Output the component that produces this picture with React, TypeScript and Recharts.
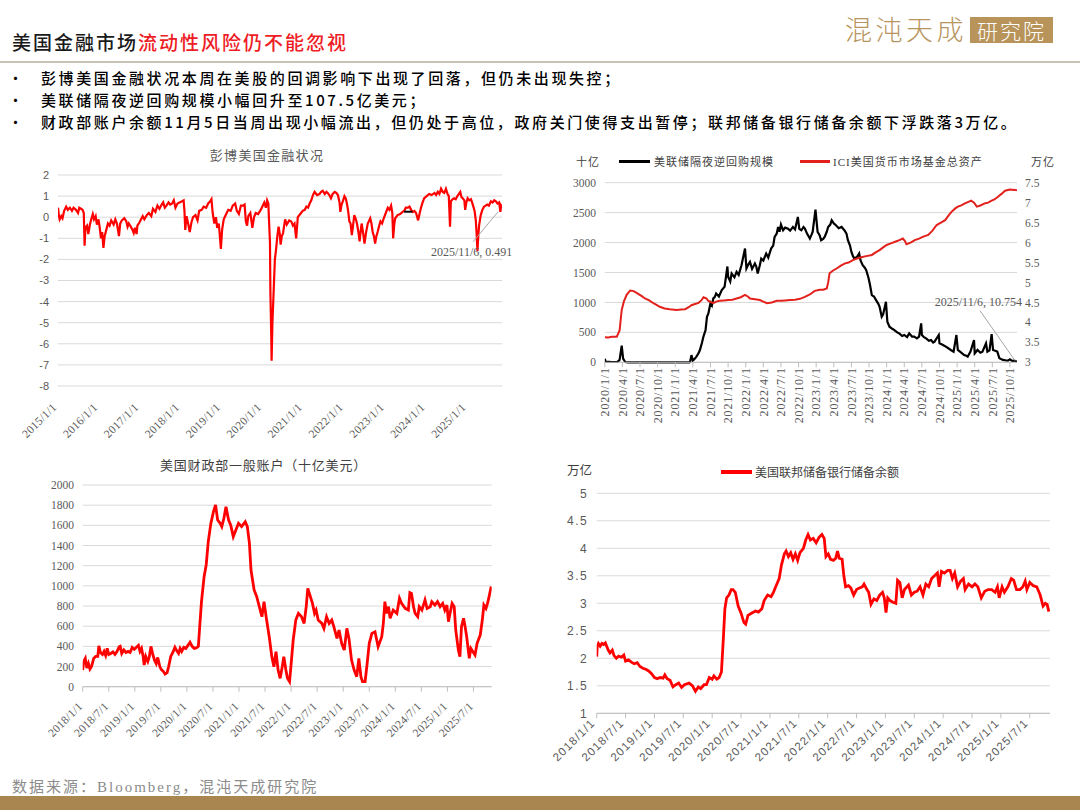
import React from 'react';
import { LineChart, Line, XAxis, YAxis, CartesianGrid, ReferenceDot, ReferenceLine } from 'recharts';

const CJK = '"Noto Sans CJK SC", sans-serif';
const SERIF = '"Liberation Serif", "Noto Sans CJK SC", serif';
const SANS = '"Liberation Sans", "Noto Sans CJK SC", sans-serif';
const GRID = '#d9d9d9';
const AXIS = '#bfbfbf';
const TEXT = '#595959';
const RED = '#ff0000';

// 彭博美国金融状况 (x = fractional year)
const fciYears = [
  2015.0, 2015.02, 2015.04, 2015.08, 2015.11, 2015.15, 2015.2, 2015.24, 2015.29, 2015.34, 2015.38, 2015.44, 2015.49, 2015.52, 2015.56, 2015.6, 2015.63, 2015.65, 2015.67, 2015.71, 2015.74, 2015.78, 2015.82, 2015.85, 2015.88, 2015.92, 2015.95, 2015.99,
  2016.02, 2016.05, 2016.08, 2016.11, 2016.14, 2016.18, 2016.22, 2016.26, 2016.3, 2016.36, 2016.4, 2016.44, 2016.49, 2016.52, 2016.56, 2016.62, 2016.67, 2016.7, 2016.73, 2016.78, 2016.82, 2016.85, 2016.88, 2016.92, 2016.94, 2016.99,
  2017.03, 2017.07, 2017.11, 2017.17, 2017.22, 2017.28, 2017.32, 2017.38, 2017.43, 2017.48, 2017.52, 2017.57, 2017.61, 2017.65, 2017.7, 2017.74, 2017.79, 2017.83, 2017.87, 2017.92, 2017.97,
  2018.03, 2018.07, 2018.09, 2018.11, 2018.14, 2018.17, 2018.22, 2018.26, 2018.3, 2018.36, 2018.41, 2018.45, 2018.51, 2018.56, 2018.62, 2018.67, 2018.72, 2018.75, 2018.78, 2018.82, 2018.86, 2018.89, 2018.93, 2018.98,
  2019.01, 2019.05, 2019.11, 2019.16, 2019.22, 2019.27, 2019.33, 2019.37, 2019.42, 2019.47, 2019.52, 2019.56, 2019.59, 2019.62, 2019.65, 2019.7, 2019.75, 2019.79, 2019.83, 2019.89, 2019.94, 2019.98,
  2020.04, 2020.08, 2020.11, 2020.14, 2020.16, 2020.18, 2020.19, 2020.21, 2020.22, 2020.24, 2020.27, 2020.3, 2020.33, 2020.36, 2020.39, 2020.42, 2020.44, 2020.47, 2020.5, 2020.55, 2020.59, 2020.65, 2020.7, 2020.74, 2020.78, 2020.82, 2020.86, 2020.92, 2020.98,
  2021.03, 2021.07, 2021.11, 2021.15, 2021.19, 2021.23, 2021.27, 2021.33, 2021.39, 2021.43, 2021.47, 2021.52, 2021.56, 2021.59, 2021.63, 2021.67, 2021.71, 2021.76, 2021.8, 2021.84, 2021.88, 2021.9, 2021.93, 2021.96,
  2022.0, 2022.03, 2022.06, 2022.09, 2022.12, 2022.15, 2022.18, 2022.21, 2022.24, 2022.28, 2022.31, 2022.34, 2022.37, 2022.4, 2022.42, 2022.46, 2022.49, 2022.53, 2022.57, 2022.63, 2022.66, 2022.69, 2022.72, 2022.75, 2022.78, 2022.81, 2022.85, 2022.88, 2022.92, 2022.96,
  2023.01, 2023.06, 2023.1, 2023.14, 2023.17, 2023.19, 2023.22, 2023.24, 2023.3, 2023.36, 2023.42, 2023.46, 2023.5, 2023.55, 2023.59, 2023.63, 2023.67, 2023.71, 2023.75, 2023.8, 2023.84, 2023.87, 2023.91, 2023.95,
  2024.01, 2024.07, 2024.13, 2024.2, 2024.24, 2024.28, 2024.32, 2024.36, 2024.4, 2024.44, 2024.48, 2024.52, 2024.55, 2024.58, 2024.6, 2024.64, 2024.68, 2024.72, 2024.76, 2024.83, 2024.86, 2024.89, 2024.93, 2024.95, 2024.98,
  2025.01, 2025.05, 2025.09, 2025.12, 2025.15, 2025.18, 2025.21, 2025.23, 2025.25, 2025.27, 2025.29, 2025.33, 2025.37, 2025.41, 2025.45, 2025.49, 2025.53, 2025.58, 2025.62, 2025.66, 2025.7, 2025.74, 2025.78, 2025.81, 2025.83, 2025.85,
];
const fciValues = [
  0.45, 0.1, -0.1, 0.05, -0.05, 0.3, 0.5, 0.35, 0.45, 0.3, 0.45, 0.35, 0.2, 0.45, 0.4, 0.35, 0.2, -1.35, -0.5, -0.4, -0.8, -0.35, -0.05, 0.15, -0.1, 0.05, -0.35, -0.1,
  -0.5, -1.0, -0.7, -1.45, -0.9, -0.6, -0.3, -0.4, -0.15, -0.35, -0.1, -0.3, -0.9, -0.3, -0.15, -0.05, -0.2, -0.45, -0.3, -0.45, -0.6, -0.75, -0.5, -0.8, -0.4, -0.25,
  -0.1, 0.05, -0.1, 0.1, 0.2, 0.05, 0.4, 0.25, 0.55, 0.4, 0.55, 0.7, 0.45, 0.55, 0.7, 0.6, 0.65, 0.8, 0.45, 0.65, 0.7,
  0.75, 0.8, 0.3, -0.6, 0.05, -0.2, -0.7, -0.25, 0.0, 0.1, -0.15, 0.3, 0.35, 0.5, 0.45, 0.65, 0.75, 0.85, 0.2, -0.3, 0.0, -0.5, -0.3, -1.5,
  -0.6, -0.1, 0.15, 0.35, 0.3, 0.55, 0.65, 0.3, 0.15, 0.55, 0.55, 0.6, -0.2, -0.4, 0.05, 0.2, -0.5, 0.0, 0.2, 0.15, 0.3, 0.45,
  0.7, 0.45, 0.8, 0.65, -0.3, -1.2, -3.5, -5.5, -6.8, -5.0, -3.5, -2.0, -1.5, -0.9, -0.45, -0.8, -1.3, -0.9, -0.75, -0.1, -0.35, -0.15, -0.2, -0.4, -0.3, -1.0, 0.0, 0.15, 0.3,
  0.35, 0.5, 0.45, 0.65, 0.8, 1.05, 1.2, 1.05, 1.1, 1.2, 1.25, 1.1, 1.2, 1.15, 1.05, 0.9, 1.1, 1.2, 1.15, 1.05, 0.7, 0.25, 0.6, 0.75,
  1.0, 0.9, 0.65, 0.3, -0.2, -0.3, -0.85, -0.4, 0.1, -0.1, -0.35, -0.7, -1.15, -0.6, -0.3, -0.8, -1.25, -0.7, -0.3, -0.05, -0.3, -0.7, -0.9, -1.25, -0.9, -0.7, -0.4, -0.2, -0.3, -0.05,
  0.2, 0.45, 0.35, 0.55, 0.2, -1.0, -0.3, -0.05, 0.1, 0.15, 0.25, 0.3, 0.45, 0.45, 0.5, 0.35, 0.25, 0.3, 0.2, -0.15, 0.2, 0.45, 0.7, 0.9,
  1.0, 1.1, 1.05, 1.15, 1.05, 1.2, 1.1, 1.35, 1.2, 1.15, 1.35, 1.1, 1.0, -0.45, 0.75, 0.85, 0.9, 0.85, 1.0, 1.2, 0.95, 0.9, 0.8, 0.35, 0.7,
  0.9, 0.8, 0.85, 0.7, 0.5, 0.3, -0.15, -0.8, -1.6, -0.9, -0.4, 0.1, 0.35, 0.5, 0.55, 0.6, 0.55, 0.75, 0.7, 0.8, 0.75, 0.65, 0.7, 0.25, 0.55, 0.491,
];
const fciTicks = [2015, 2016, 2017, 2018, 2019, 2020, 2021, 2022, 2023, 2024, 2025];
const fciTickLabels = ['2015/1/1', '2016/1/1', '2017/1/1', '2018/1/1', '2019/1/1', '2020/1/1', '2021/1/1', '2022/1/1', '2023/1/1', '2024/1/1', '2025/1/1'];
const fciYTicks = [-8, -7, -6, -5, -4, -3, -2, -1, 0, 1, 2];
const fciMarkYears = [2023.46, 2023.66];
const fciMarkValue = 0.26;

// 美联储隔夜逆回购规模 (十亿)
const rrpYears = [
  2020.0, 2020.01, 2020.1, 2020.18, 2020.21, 2020.24, 2020.26, 2020.29, 2020.33, 2020.7,
  2021.2, 2021.21, 2021.23, 2021.25, 2021.27, 2021.3, 2021.33, 2021.35, 2021.38, 2021.4, 2021.43, 2021.45, 2021.47, 2021.5, 2021.52, 2021.54, 2021.56, 2021.58, 2021.62, 2021.66, 2021.7, 2021.74, 2021.75, 2021.78, 2021.8, 2021.84, 2021.87, 2021.9, 2021.94, 2021.96, 2021.99,
  2022.01, 2022.04, 2022.06, 2022.09, 2022.13, 2022.15, 2022.17, 2022.2, 2022.22, 2022.25, 2022.29, 2022.32, 2022.36, 2022.39, 2022.41, 2022.44, 2022.46, 2022.48, 2022.5, 2022.53, 2022.56, 2022.6, 2022.63, 2022.67, 2022.7, 2022.74, 2022.76, 2022.79, 2022.82, 2022.84, 2022.87, 2022.91, 2022.93, 2022.95, 2022.99,
  2023.02, 2023.05, 2023.07, 2023.1, 2023.12, 2023.15, 2023.17, 2023.2, 2023.22, 2023.25, 2023.28, 2023.32, 2023.36, 2023.4, 2023.43, 2023.45, 2023.48, 2023.5, 2023.52, 2023.54, 2023.58, 2023.61, 2023.63, 2023.66, 2023.69, 2023.71, 2023.74, 2023.76, 2023.79, 2023.82, 2023.85, 2023.88, 2023.9, 2023.93, 2023.95, 2023.99,
  2024.01, 2024.04, 2024.08, 2024.11, 2024.15, 2024.18, 2024.22, 2024.25, 2024.29, 2024.32, 2024.36, 2024.39, 2024.43, 2024.46, 2024.49, 2024.5, 2024.53, 2024.56, 2024.6, 2024.63, 2024.66, 2024.68, 2024.74, 2024.75, 2024.8, 2024.84, 2024.88, 2024.91, 2024.95, 2024.99,
  2025.01, 2025.05, 2025.1, 2025.13, 2025.15, 2025.19, 2025.24, 2025.25, 2025.29, 2025.33, 2025.36, 2025.41, 2025.43, 2025.46, 2025.49, 2025.51, 2025.55, 2025.57, 2025.6, 2025.65, 2025.7, 2025.72, 2025.75, 2025.78, 2025.81, 2025.85,
];
const rrpValues = [
  60, 10, 5, 8, 40, 280, 60, 5, 0, 0,
  0, 5, 120, 30, 50, 95, 150, 205, 330, 430, 540, 760, 815, 990, 950, 1067, 1090, 1150, 1100, 1206, 1261, 1600, 1428, 1350, 1483, 1420, 1511, 1460, 1622, 1733, 1900,
  1567, 1640, 1678, 1560, 1650, 1600, 1483, 1620, 1733, 1700, 1817, 1750, 1900, 1950, 2094, 2150, 2261, 2180, 2300, 2206, 2250, 2233, 2200, 2261, 2220, 2428, 2230, 2206, 2260, 2233, 2150, 2067, 2120, 2178, 2550,
  2178, 2120, 2039, 2060, 2094, 2180, 2261, 2300, 2372, 2320, 2289, 2240, 2261, 2206, 2150, 2039, 1950, 1844, 1780, 1733, 1760, 1817, 1700, 1622, 1580, 1539, 1420, 1317, 1122, 1100, 1039, 980, 928, 761, 800, 1011,
  678, 594, 560, 539, 500, 483, 440, 456, 420, 483, 430, 428, 400, 430, 650, 456, 420, 400, 360, 372, 330, 344, 456, 317, 290, 261, 230, 206, 178, 456,
  206, 170, 122, 110, 94, 178, 372, 150, 206, 160, 178, 317, 178, 200, 472, 206, 190, 178, 67, 40, 30, 28, 50, 25, 28, 10.754,
];

// ICI美国货币市场基金总资产 (万亿)
const iciYears = [
  2020.0, 2020.05, 2020.1, 2020.17, 2020.19, 2020.21, 2020.24, 2020.27, 2020.31, 2020.36, 2020.4, 2020.44, 2020.48, 2020.53, 2020.57, 2020.63, 2020.69, 2020.74, 2020.78, 2020.85, 2020.92,
  2021.02, 2021.08, 2021.14, 2021.19, 2021.23, 2021.28, 2021.33, 2021.37, 2021.4, 2021.44, 2021.47, 2021.54, 2021.58, 2021.63, 2021.69, 2021.75, 2021.81, 2021.87, 2021.93, 2021.99,
  2022.03, 2022.06, 2022.13, 2022.2, 2022.25, 2022.3, 2022.37, 2022.44, 2022.5, 2022.56, 2022.63, 2022.7, 2022.77, 2022.84, 2022.91, 2022.98,
  2023.05, 2023.1, 2023.15, 2023.17, 2023.19, 2023.24, 2023.29, 2023.35, 2023.41, 2023.46, 2023.52, 2023.58, 2023.64, 2023.71, 2023.79, 2023.85, 2023.9, 2023.95,
  2024.0, 2024.06, 2024.12, 2024.18, 2024.23, 2024.26, 2024.28, 2024.34, 2024.4, 2024.46, 2024.52, 2024.59, 2024.65, 2024.71, 2024.77, 2024.83, 2024.88, 2024.92, 2024.97,
  2025.01, 2025.06, 2025.11, 2025.16, 2025.2, 2025.24, 2025.28, 2025.33, 2025.39, 2025.44, 2025.49, 2025.53, 2025.58, 2025.63, 2025.68, 2025.75, 2025.82, 2025.85,
];
const iciValues = [
  3.63, 3.62, 3.64, 3.64, 3.72, 3.8, 4.31, 4.52, 4.69, 4.8, 4.79, 4.75, 4.71, 4.65, 4.6, 4.55, 4.48, 4.43, 4.39, 4.35, 4.33,
  4.31, 4.32, 4.33, 4.38, 4.43, 4.46, 4.49, 4.55, 4.63, 4.6, 4.54, 4.48, 4.52, 4.54, 4.55, 4.56, 4.57, 4.6, 4.63, 4.69,
  4.65, 4.6, 4.58, 4.56, 4.52, 4.48, 4.5, 4.54, 4.54, 4.55, 4.56, 4.57, 4.59, 4.64, 4.7, 4.79,
  4.82, 4.82, 4.85, 5.0, 5.23, 5.3, 5.35, 5.42, 5.48, 5.5, 5.56, 5.6, 5.63, 5.66, 5.69, 5.76, 5.81, 5.88,
  5.94, 5.98, 6.02, 6.06, 6.1, 6.04, 5.96, 6.0, 6.06, 6.1, 6.15, 6.19, 6.3, 6.44, 6.5, 6.56, 6.68, 6.77, 6.85,
  6.9, 6.93, 6.98, 7.02, 7.05, 7.0, 6.9, 6.93, 6.98, 7.0, 7.05, 7.08, 7.15, 7.22, 7.3, 7.33, 7.32, 7.31,
];
const rrpTicks = [
  2020, 2020.25, 2020.5, 2020.75, 2021, 2021.25, 2021.5, 2021.75, 2022, 2022.25, 2022.5, 2022.75,
  2023, 2023.25, 2023.5, 2023.75, 2024, 2024.25, 2024.5, 2024.75, 2025, 2025.25, 2025.5, 2025.75,
];
const rrpTickLabels = [
  '2020/1/1', '2020/4/1', '2020/7/1', '2020/10/1', '2021/1/1', '2021/4/1', '2021/7/1', '2021/10/1',
  '2022/1/1', '2022/4/1', '2022/7/1', '2022/10/1', '2023/1/1', '2023/4/1', '2023/7/1', '2023/10/1',
  '2024/1/1', '2024/4/1', '2024/7/1', '2024/10/1', '2025/1/1', '2025/4/1', '2025/7/1', '2025/10/1',
];
const rrpYTicks = [0, 500, 1000, 1500, 2000, 2500, 3000];
const iciYTicks = [3, 3.5, 4, 4.5, 5, 5.5, 6, 6.5, 7, 7.5];

// 美国财政部一般账户 (十亿美元)
const tgaYears = [
  2018.0, 2018.02, 2018.05, 2018.08, 2018.11, 2018.14, 2018.17, 2018.21, 2018.25, 2018.29, 2018.31, 2018.34, 2018.38, 2018.41, 2018.44, 2018.47, 2018.5, 2018.54, 2018.58, 2018.62, 2018.66, 2018.7, 2018.72, 2018.75, 2018.79, 2018.83, 2018.87, 2018.91, 2018.95, 2018.99,
  2019.03, 2019.07, 2019.1, 2019.13, 2019.16, 2019.18, 2019.21, 2019.25, 2019.28, 2019.31, 2019.34, 2019.38, 2019.41, 2019.44, 2019.48, 2019.51, 2019.55, 2019.58, 2019.62, 2019.65, 2019.69, 2019.73, 2019.77, 2019.8, 2019.84, 2019.87, 2019.9, 2019.94, 2019.98,
  2020.02, 2020.06, 2020.1, 2020.14, 2020.18, 2020.22, 2020.25, 2020.28, 2020.33, 2020.37, 2020.41, 2020.46, 2020.51, 2020.55, 2020.59, 2020.64, 2020.67, 2020.71, 2020.75, 2020.8, 2020.84, 2020.89, 2020.94, 2020.99,
  2021.05, 2021.12, 2021.16, 2021.2, 2021.23, 2021.26, 2021.29, 2021.34, 2021.39, 2021.44, 2021.48, 2021.53, 2021.58, 2021.63, 2021.67, 2021.71, 2021.75, 2021.79, 2021.83, 2021.86, 2021.9, 2021.93, 2021.97, 2021.99,
  2022.04, 2022.09, 2022.14, 2022.2, 2022.25, 2022.29, 2022.32, 2022.36, 2022.41, 2022.45, 2022.48, 2022.52, 2022.59, 2022.63, 2022.68, 2022.73, 2022.78, 2022.82, 2022.88, 2022.92, 2022.97,
  2023.02, 2023.07, 2023.11, 2023.16, 2023.21, 2023.26, 2023.3, 2023.34, 2023.37, 2023.42, 2023.46, 2023.5, 2023.55, 2023.61, 2023.67, 2023.74, 2023.77, 2023.8, 2023.83, 2023.87, 2023.9, 2023.96,
  2024.03, 2024.08, 2024.12, 2024.19, 2024.25, 2024.28, 2024.31, 2024.35, 2024.38, 2024.43, 2024.46, 2024.51, 2024.57, 2024.61, 2024.67, 2024.7, 2024.76, 2024.81, 2024.86, 2024.91, 2024.95, 2024.99,
  2025.02, 2025.05, 2025.09, 2025.13, 2025.16, 2025.21, 2025.24, 2025.27, 2025.31, 2025.34, 2025.37, 2025.4, 2025.42, 2025.45, 2025.49, 2025.53, 2025.57, 2025.63, 2025.67, 2025.7, 2025.74, 2025.77, 2025.8, 2025.84,
];
const tgaValues = [
  165, 250, 280, 185, 230, 175, 200, 280, 300, 300, 405, 340, 320, 350, 310, 380, 320, 330, 345, 320, 350, 395, 400, 330, 365, 340, 350, 340, 390, 370,
  390, 410, 350, 380, 300, 215, 300, 250, 300, 400, 330, 260, 230, 290, 200, 170, 150, 125, 140, 200, 300, 340, 390, 360, 330, 380, 350, 390, 380,
  410, 440, 400, 380, 385, 400, 628, 843, 1091, 1207, 1438, 1620, 1736, 1802, 1653, 1620, 1587, 1670, 1785, 1653, 1603, 1488, 1554, 1620,
  1587, 1636, 1587, 1421, 1157, 1058, 959, 893, 793, 694, 843, 661, 496, 298, 198, 347, 165, 83, 198, 298, 165, 83, 50, 165,
  463, 661, 727, 694, 628, 793, 975, 909, 826, 727, 760, 661, 628, 579, 694, 628, 661, 595, 479, 562, 430,
  364, 579, 479, 264, 165, 99, 281, 99, 50, 50, 231, 430, 529, 545, 397, 496, 628, 843, 727, 793, 678, 760,
  727, 876, 826, 777, 760, 932, 925, 793, 727, 694, 793, 760, 860, 777, 793, 843, 810, 843, 793, 826, 760, 810,
  645, 727, 826, 793, 562, 364, 298, 595, 678, 595, 496, 364, 281, 380, 347, 314, 430, 512, 661, 810, 777, 826, 893, 992,
];
const halfYearTicks = [2018, 2018.5, 2019, 2019.5, 2020, 2020.5, 2021, 2021.5, 2022, 2022.5, 2023, 2023.5, 2024, 2024.5, 2025, 2025.5];
const halfYearLabels = [
  '2018/1/1', '2018/7/1', '2019/1/1', '2019/7/1', '2020/1/1', '2020/7/1', '2021/1/1', '2021/7/1',
  '2022/1/1', '2022/7/1', '2023/1/1', '2023/7/1', '2024/1/1', '2024/7/1', '2025/1/1', '2025/7/1',
];
const tgaYTicks = [0, 200, 400, 600, 800, 1000, 1200, 1400, 1600, 1800, 2000];

// 美国联邦储备银行储备余额 (万亿)
const resYears = [
  2018.0, 2018.01, 2018.03, 2018.06, 2018.09, 2018.12, 2018.15, 2018.2, 2018.23, 2018.27, 2018.3, 2018.34, 2018.38, 2018.43, 2018.47, 2018.5, 2018.55, 2018.6, 2018.65, 2018.7, 2018.75, 2018.8, 2018.85, 2018.9, 2018.95,
  2019.0, 2019.05, 2019.1, 2019.15, 2019.18, 2019.22, 2019.27, 2019.32, 2019.37, 2019.42, 2019.47, 2019.52, 2019.6, 2019.66, 2019.71, 2019.76, 2019.8, 2019.86, 2019.9, 2019.95,
  2020.0, 2020.03, 2020.08, 2020.12, 2020.16, 2020.19, 2020.22, 2020.25, 2020.29, 2020.33, 2020.36, 2020.4, 2020.45, 2020.5, 2020.55, 2020.58, 2020.62, 2020.68, 2020.75, 2020.8, 2020.86, 2020.9, 2020.96,
  2021.02, 2021.06, 2021.12, 2021.16, 2021.2, 2021.25, 2021.28, 2021.32, 2021.36, 2021.4, 2021.44, 2021.48, 2021.52, 2021.58, 2021.62, 2021.66, 2021.7, 2021.75, 2021.8, 2021.85, 2021.9, 2021.94, 2021.97,
  2022.01, 2022.05, 2022.1, 2022.14, 2022.17, 2022.2, 2022.25, 2022.28, 2022.31, 2022.36, 2022.4, 2022.45, 2022.5, 2022.55, 2022.6, 2022.63, 2022.68, 2022.71, 2022.75, 2022.8, 2022.85, 2022.9, 2022.95, 2022.98,
  2023.01, 2023.04, 2023.08, 2023.13, 2023.18, 2023.21, 2023.25, 2023.29, 2023.33, 2023.4, 2023.45, 2023.5, 2023.55, 2023.6, 2023.65, 2023.7, 2023.75, 2023.8, 2023.85, 2023.9, 2023.93, 2023.97,
  2024.02, 2024.08, 2024.12, 2024.16, 2024.2, 2024.25, 2024.3, 2024.35, 2024.38, 2024.44, 2024.5, 2024.55, 2024.6, 2024.66, 2024.72, 2024.78, 2024.84, 2024.9, 2024.94, 2024.97,
  2025.02, 2025.06, 2025.12, 2025.18, 2025.22, 2025.27, 2025.33, 2025.38, 2025.42, 2025.45, 2025.5, 2025.56, 2025.62, 2025.68, 2025.73, 2025.77, 2025.8, 2025.83,
];
const resValues = [
  2.03, 2.22, 2.27, 2.22, 2.27, 2.25, 2.28, 2.15, 2.1, 2.15, 2.05, 2.0, 2.04, 2.02, 2.06, 1.95, 1.97, 1.93, 1.9, 1.92, 1.85, 1.82, 1.8, 1.77, 1.72,
  1.65, 1.63, 1.65, 1.64, 1.7, 1.63, 1.6, 1.48, 1.52, 1.55, 1.47, 1.52, 1.55, 1.5, 1.4, 1.48, 1.45, 1.52, 1.52, 1.65,
  1.62, 1.68, 1.62, 1.65, 1.75, 2.3, 2.9, 3.1, 3.15, 3.25, 3.25, 3.2, 2.95, 2.82, 2.65, 2.62, 2.78, 2.82, 2.86, 2.84, 2.9, 3.05, 3.15,
  3.12, 3.2, 3.35, 3.45, 3.7, 3.9, 3.95, 3.85, 3.92, 3.8, 3.9, 3.78, 3.92, 4.0, 4.15, 4.25, 4.15, 4.18, 4.1, 4.2, 4.25, 4.18, 3.85,
  3.9, 3.8, 3.78, 3.82, 3.95, 3.82, 3.8, 3.5, 3.3, 3.32, 3.28, 3.15, 3.25, 3.28, 3.3, 3.35, 3.25, 3.2, 2.98, 3.08, 3.05, 3.15, 3.2, 3.1,
  2.83, 3.1, 3.05, 3.02, 3.0, 3.42, 3.38, 3.1, 3.25, 3.33, 3.15, 3.2, 3.22, 3.3, 3.15, 3.35, 3.3, 3.45, 3.5, 3.55, 3.3, 3.58,
  3.55, 3.6, 3.6, 3.45, 3.55, 3.3, 3.4, 3.45, 3.25, 3.35, 3.3, 3.35, 3.3, 3.1, 3.22, 3.25, 3.25, 3.2, 3.3, 3.1,
  3.3, 3.2, 3.3, 3.45, 3.42, 3.25, 3.25, 3.3, 3.4, 3.25, 3.38, 3.32, 3.3, 3.15, 2.95, 3.0, 2.98, 2.85,
];
const resYTicks = [1, 1.5, 2, 2.5, 3, 3.5, 4, 4.5, 5];

const rows = (xs: number[], ys: number[]) => xs.map((x, i) => ({ x, y: ys[i] }));

type TickCfg = {
  ticks: number[];
  labels: string[];
  angle: number;
  dx: number;
  dy: number;
  font: string;
  size: number;
  spacing?: number;
};

function AxisLabel(props: any) {
  const { x, y, payload, cfg } = props;
  const c = cfg as TickCfg;
  const i = c.ticks.findIndex((t) => Math.abs(t - payload.value) < 1e-6);
  return (
    <g transform={`translate(${x + c.dx},${y + c.dy})`}>
      <text
        transform={`rotate(${c.angle})`}
        textAnchor="end"
        dy="0.35em"
        fill={TEXT}
        fontSize={c.size}
        fontFamily={c.font}
        letterSpacing={c.spacing ?? 0}
      >
        {i >= 0 ? c.labels[i] : ''}
      </text>
    </g>
  );
}

function FciChart() {
  const cfg: TickCfg = { ticks: fciTicks, labels: fciTickLabels, angle: -45, dx: -3.5, dy: 19, font: SERIF, size: 11.5, spacing: 0.3 };
  const last = fciYears.length - 1;
  return (
    <div style={{ position: 'absolute', left: 0, top: 140 }}>
      <div style={{ position: 'absolute', left: 0, width: 534, top: 5, textAlign: 'center', fontSize: 13, letterSpacing: 1.3, color: TEXT, lineHeight: '20px' }}>
        彭博美国金融状况
      </div>
      <LineChart width={540} height={310} data={rows(fciYears, fciValues)} margin={{ top: 35, right: 38, bottom: 4, left: 0 }}>
        <CartesianGrid vertical={false} stroke={GRID} />
        <XAxis
          type="number"
          dataKey="x"
          domain={[2015, 2025.85]}
          ticks={fciTicks}
          interval={0}
          allowDataOverflow
          axisLine={false}
          tickLine={false}
          tickSize={0}
          tickMargin={0}
          height={60}
          tick={(p: any) => <AxisLabel {...p} cfg={cfg} />}
        />
        <YAxis
          domain={[-8, 2]}
          ticks={fciYTicks}
          interval={0}
          width={58}
          axisLine={false}
          tickLine={false}
          tickSize={0}
          tickMargin={9}
          tick={{ fill: TEXT, fontSize: 11, fontFamily: SANS }}
        />
        <Line dataKey="y" type="linear" stroke={RED} strokeWidth={2.2} dot={false} isAnimationActive={false} />
        <ReferenceLine
          segment={[{ x: fciMarkYears[0], y: fciMarkValue }, { x: fciMarkYears[1], y: fciMarkValue }]}
          stroke="#000"
          strokeWidth={2}
        />
        <ReferenceDot
          x={fciYears[last]}
          y={fciValues[last]}
          r={0}
          ifOverflow="visible"
          shape={(p: any) => (
            <g>
              <line x1={p.cx - 4} y1={p.cy + 5} x2={p.cx - 29} y2={p.cy + 35} stroke="#a6a6a6" strokeWidth={1} />
              <text x={p.cx - 71} y={p.cy + 49} fill={TEXT} fontSize={12} fontFamily={SERIF}>
                {`2025/11/6, ${fciValues[last]}`}
              </text>
            </g>
          )}
        />
      </LineChart>
    </div>
  );
}

function RrpChart() {
  const cfg: TickCfg = { ticks: rrpTicks, labels: rrpTickLabels, angle: -90, dx: 0, dy: -2, font: SERIF, size: 12, spacing: 0.8 };
  const last = rrpYears.length - 1;
  const legendText = { position: 'absolute' as const, fontSize: 11, letterSpacing: 1, lineHeight: '18px', color: '#404040', whiteSpace: 'nowrap' as const };
  return (
    <div style={{ position: 'absolute', left: 540, top: 140 }}>
      <div style={{ ...legendText, left: 36, top: 12 }}>十亿</div>
      <div style={{ position: 'absolute', left: 79, top: 20, width: 31, height: 3, background: '#000' }} />
      <div style={{ ...legendText, left: 114, top: 12 }}>美联储隔夜逆回购规模</div>
      <div style={{ position: 'absolute', left: 260, top: 20, width: 30, height: 3, background: '#e3211c' }} />
      <div style={{ ...legendText, left: 293, top: 12 }}>
        <span style={{ fontFamily: SERIF }}>ICI</span>美国货币市场基金总资产
      </div>
      <div style={{ ...legendText, left: 491, top: 12 }}>万亿</div>
      <LineChart width={540} height={310} margin={{ top: 42.7, right: 13, bottom: 7.7, left: 0 }}>
        <CartesianGrid vertical={false} stroke={GRID} yAxisId="left" />
        <XAxis
          type="number"
          dataKey="x"
          domain={[2020, 2025.85]}
          ticks={rrpTicks}
          interval={0}
          allowDataOverflow
          axisLine={{ stroke: AXIS }}
          tickLine={{ stroke: AXIS }}
          tickSize={5}
          tickMargin={2}
          height={80}
          tick={(p: any) => <AxisLabel {...p} cfg={cfg} />}
        />
        <YAxis
          yAxisId="left"
          domain={[0, 3000]}
          ticks={rrpYTicks}
          interval={0}
          width={64.8}
          axisLine={false}
          tickLine={false}
          tickSize={0}
          tickMargin={8.8}
          tick={{ fill: TEXT, fontSize: 11.5, fontFamily: SERIF }}
        />
        <YAxis
          yAxisId="right"
          orientation="right"
          domain={[3, 7.5]}
          ticks={iciYTicks}
          interval={0}
          width={50}
          axisLine={false}
          tickLine={false}
          tickSize={0}
          tickMargin={8}
          tick={{ fill: TEXT, fontSize: 11.5, fontFamily: SERIF }}
        />
        <Line data={rows(rrpYears, rrpValues)} yAxisId="left" dataKey="y" type="linear" stroke="#000" strokeWidth={2.2} dot={false} isAnimationActive={false} />
        <Line data={rows(iciYears, iciValues)} yAxisId="right" dataKey="y" type="linear" stroke="#e3211c" strokeWidth={2} dot={false} isAnimationActive={false} />
        <ReferenceDot
          yAxisId="left"
          x={rrpYears[last]}
          y={rrpValues[last]}
          r={0}
          ifOverflow="visible"
          shape={(p: any) => (
            <g>
              <line x1={p.cx - 2} y1={p.cy - 1} x2={p.cx - 37} y2={p.cy - 51} stroke="#a6a6a6" strokeWidth={1} />
              <text x={p.cx + 5} y={p.cy - 56} textAnchor="end" fill={TEXT} fontSize={12} fontFamily={SERIF}>
                {`2025/11/6, ${rrpValues[last]}`}
              </text>
            </g>
          )}
        />
      </LineChart>
    </div>
  );
}

function TgaChart() {
  const cfg: TickCfg = { ticks: halfYearTicks, labels: halfYearLabels, angle: -45, dx: -2.3, dy: 10.4, font: SERIF, size: 11.5, spacing: 0.3 };
  return (
    <div style={{ position: 'absolute', left: 0, top: 450 }}>
      <div style={{ position: 'absolute', left: 160, top: 5, fontSize: 13, letterSpacing: 0.8, color: '#404040', lineHeight: '20px', whiteSpace: 'nowrap' }}>
        美国财政部一般账户（十亿美元）
      </div>
      <LineChart width={540} height={350} data={rows(tgaYears, tgaValues)} margin={{ top: 35, right: 48.3, bottom: 13.3, left: 0 }}>
        <CartesianGrid vertical={false} stroke={GRID} />
        <XAxis
          type="number"
          dataKey="x"
          domain={[2018, 2025.85]}
          ticks={halfYearTicks}
          interval={0}
          allowDataOverflow
          axisLine={{ stroke: AXIS }}
          tickLine={{ stroke: AXIS }}
          tickSize={5}
          tickMargin={2}
          height={100}
          tick={(p: any) => <AxisLabel {...p} cfg={cfg} />}
        />
        <YAxis
          domain={[0, 2000]}
          ticks={tgaYTicks}
          interval={0}
          width={82.7}
          axisLine={false}
          tickLine={false}
          tickSize={0}
          tickMargin={8.7}
          tick={{ fill: TEXT, fontSize: 11.5, fontFamily: SERIF }}
        />
        <Line dataKey="y" type="linear" stroke={RED} strokeWidth={2.8} dot={false} isAnimationActive={false} />
      </LineChart>
    </div>
  );
}

function ReserveChart() {
  const cfg: TickCfg = { ticks: halfYearTicks, labels: halfYearLabels, angle: -45, dx: -3.6, dy: 0.5, font: SANS, size: 11.5, spacing: 1.2 };
  return (
    <div style={{ position: 'absolute', left: 540, top: 450 }}>
      <div style={{ position: 'absolute', left: 27, top: 10, fontSize: 12.5, color: '#404040', lineHeight: '20px' }}>万亿</div>
      <div style={{ position: 'absolute', left: 181, top: 20, width: 31, height: 3.5, background: RED }} />
      <div style={{ position: 'absolute', left: 215, top: 12, fontSize: 12, color: '#404040', lineHeight: '20px', whiteSpace: 'nowrap' }}>
        美国联邦储备银行储备余额
      </div>
      <LineChart width={540} height={340} data={rows(resYears, resValues)} margin={{ top: 43.3, right: 30, bottom: 6.7, left: 0 }}>
        <CartesianGrid vertical={false} stroke={GRID} />
        <XAxis
          type="number"
          dataKey="x"
          domain={[2018, 2025.85]}
          ticks={halfYearTicks}
          interval={0}
          allowDataOverflow
          axisLine={{ stroke: AXIS }}
          tickLine={{ stroke: AXIS }}
          tickSize={5}
          tickMargin={2}
          height={70}
          tick={(p: any) => <AxisLabel {...p} cfg={cfg} />}
        />
        <YAxis
          domain={[1, 5]}
          ticks={resYTicks}
          interval={0}
          width={56.7}
          axisLine={false}
          tickLine={false}
          tickSize={0}
          tickMargin={8.4}
          tick={{ fill: TEXT, fontSize: 12, fontFamily: SANS, letterSpacing: 1.5 }}
        />
        <Line dataKey="y" type="linear" stroke={RED} strokeWidth={2.8} dot={false} isAnimationActive={false} />
      </LineChart>
    </div>
  );
}

const bullets = [
  '彭博美国金融状况本周在美股的回调影响下出现了回落，但仍未出现失控；',
  '美联储隔夜逆回购规模小幅回升至107.5亿美元；',
  '财政部账户余额11月5日当周出现小幅流出，但仍处于高位，政府关门使得支出暂停；联邦储备银行储备余额下浮跌落3万亿。',
];
const bulletRows = [78, 100, 122];

export default function App() {
  return (
    <div style={{ position: 'absolute', left: 0, top: 0, width: 1080, height: 810, background: '#fff', overflow: 'hidden', fontFamily: CJK }}>
      <div style={{ position: 'absolute', left: 12, top: 29, fontSize: 19, letterSpacing: 2, lineHeight: '26px', color: '#1a1a1a', fontWeight: 500, whiteSpace: 'nowrap' }}>
        美国金融市场<span style={{ color: '#ee1c25' }}>流动性风险仍不能忽视</span>
      </div>
      <div style={{ position: 'absolute', left: 845, top: 13, fontSize: 27, lineHeight: '32px', color: '#b8955e', letterSpacing: 3.5, fontWeight: 300, whiteSpace: 'nowrap' }}>
        混沌天成
      </div>
      <div style={{ position: 'absolute', left: 970, top: 17, width: 83, height: 26, background: '#b8935a', color: '#fff', fontSize: 21, lineHeight: '26px', textAlign: 'center', fontWeight: 300, letterSpacing: 2 }}>
        研究院
      </div>
      <div style={{ position: 'absolute', left: 0, top: 61, width: 1080, height: 2, background: '#c9c1b3' }} />
      {bullets.map((b, i) => (
        <React.Fragment key={i}>
          <div style={{ position: 'absolute', left: 8, top: bulletRows[i] - 10, height: 20, lineHeight: '20px', fontSize: 15, color: '#000' }}>•</div>
          <div style={{ position: 'absolute', left: 41, top: bulletRows[i] - 10, height: 20, lineHeight: '20px', fontSize: 15, color: '#000', fontWeight: 500, letterSpacing: 2.6, whiteSpace: 'nowrap' }}>
            {b}
          </div>
        </React.Fragment>
      ))}
      <FciChart />
      <RrpChart />
      <TgaChart />
      <ReserveChart />
      <div style={{ position: 'absolute', left: 12, top: 776, fontSize: 15, lineHeight: '20px', color: '#8c8c8c', letterSpacing: 2, whiteSpace: 'nowrap' }}>
        数据来源：<span style={{ fontFamily: SERIF }}>Bloomberg</span>，混沌天成研究院
      </div>
      <div style={{ position: 'absolute', left: 0, top: 796, width: 1080, height: 14, background: '#a98650' }} />
    </div>
  );
}
